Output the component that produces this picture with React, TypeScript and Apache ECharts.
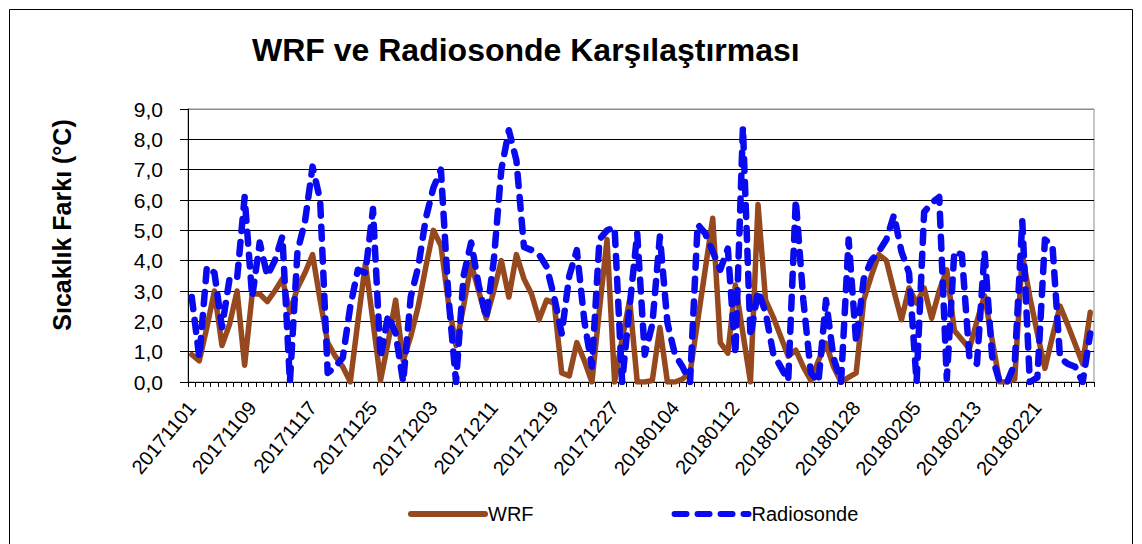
import React, { useEffect, useRef } from "react";
import * as echarts from "echarts";

// Months covered by the daily categories (YYYYMM, number of days)
const MONTHS: [string, number][] = [
  ["201711", 30],
  ["201712", 31],
  ["201801", 31],
  ["201802", 28],
];
const DATES: string[] = MONTHS.flatMap(([ym, n]) =>
  Array.from({ length: n }, (_, i) => ym + String(i + 1).padStart(2, "0"))
);

const Y_TICKS = [0, 1, 2, 3, 4, 5, 6, 7, 8, 9];

// WRF (brown)
const WRF: number[] = [
  0.9, 0.7, 1.8, 3.0, 1.2, 1.9, 3.0, 0.55, 2.9, 2.9,
  2.65, 3.0, 3.4, 2.3, 3.1, 3.6, 4.2, 2.7, 1.3, 0.85,
  0.5, 0.0, 2.0, 3.9, 2.0, 0.05, 1.3, 2.7, 0.7, 1.5,
  2.5, 3.8, 5.0, 4.5, 2.6, 1.2, 2.5, 3.9, 3.0, 2.1,
  3.0, 4.0, 2.8, 4.2, 3.4, 2.9, 2.05, 2.7, 2.6, 0.3,
  0.2, 1.3, 0.7, 0.0, 2.4, 4.7, 0.0, 1.4, 2.7, 0.0,
  0.0, 0.05, 1.8, 0.0, 0.0, 0.1, 0.3, 2.0, 3.7, 5.4,
  1.3, 0.95, 3.2, 1.6, 0.0, 5.85, 2.7, 2.15, 1.5, 0.85,
  1.05, 0.5, 0.05, 0.7, 1.28, 0.5, 0.0, 0.15, 0.3, 2.7,
  3.5, 4.2, 4.0, 3.0, 2.05, 3.1, 2.6, 3.1, 2.1, 3.0,
  3.7, 1.7, 1.4, 1.1, 2.0, 2.85, 1.4, 0.0, 0.0, 0.1,
  4.2, 2.8, 1.6, 0.45, 1.5, 2.5, 1.9, 1.25, 0.6, 2.3,
];

// Radiosonde (blue, dashed)
const RADIOSONDE: number[] = [
  2.8, 0.8, 3.8, 3.6, 1.8, 3.4, 3.4, 6.1, 2.8, 4.6,
  3.5, 4.0, 4.8, 0.0, 4.3, 5.3, 7.1, 6.0, 0.3, 0.5,
  0.8, 2.5, 3.7, 3.6, 5.7, 0.8, 2.2, 1.6, 0.0, 2.8,
  3.8, 5.4, 6.4, 7.0, 2.8, 0.0, 3.5, 4.6, 3.2, 2.1,
  4.0, 7.0, 8.3, 7.3, 4.45, 4.35, 4.2, 3.8, 2.8, 1.6,
  3.5, 4.35, 2.0, 0.5, 4.7, 5.0, 5.1, 0.0, 2.5, 4.9,
  0.9, 1.9, 4.8, 1.95, 0.9, 0.5, 0.0, 5.2, 4.9, 4.3,
  3.7, 4.4, 0.9, 8.4, 1.5, 3.0, 2.3, 0.95, 0.5, 0.05,
  6.0, 2.7, 0.3, 0.0, 2.7, 0.8, 0.0, 4.7, 1.3, 3.4,
  4.0, 4.3, 4.7, 5.5, 4.3, 3.6, 0.0, 5.6, 5.9, 6.1,
  0.1, 4.3, 4.2, 0.8, 0.6, 4.3, 0.85, 0.0, 0.0, 0.6,
  5.3, 0.0, 0.15, 4.7, 4.5, 0.8, 0.6, 0.5, 0.0, 1.6,
];

const FONT = '"Liberation Sans", Arial, sans-serif';
const BROWN = "#96491f";
const BLUE = "#0a0af0";

export default function App() {
  const ref = useRef<HTMLDivElement>(null);

  useEffect(() => {
    document.body.style.margin = "0";
    if (!ref.current) return;
    const chart = echarts.init(ref.current, undefined, { renderer: "svg" });
    const gridColors = Y_TICKS.map((_, i) => (i === Y_TICKS.length - 1 ? "#8c8c8c" : "#000"));
    chart.setOption({
      animation: false,
      backgroundColor: "#fff",
      title: {
        text: "WRF ve Radiosonde Karşılaştırması",
        left: 252,
        top: 34,
        padding: 0,
        textStyle: { fontFamily: FONT, fontSize: 32, fontWeight: "bold", color: "#000" },
      },
      legend: {
        left: 403,
        top: 499,
        itemWidth: 74,
        itemHeight: 14,
        itemGap: 138,
        itemStyle: { opacity: 0 },
        lineStyle: { width: 6, cap: "round" },
        textStyle: { fontFamily: FONT, fontSize: 20, color: "#000", padding: [0, 0, 0, -2] },
        data: ["WRF", "Radiosonde"],
      },
      grid: {
        left: 188,
        right: 48,
        top: 109,
        bottom: 162,
        show: true,
        borderColor: "#8c8c8c",
        borderWidth: 1,
        backgroundColor: "#fff",
      },
      xAxis: {
        type: "category",
        data: DATES,
        boundaryGap: true,
        axisLine: { lineStyle: { color: "#000", width: 1 } },
        axisTick: { show: true, interval: 0, length: 5, lineStyle: { color: "#000" } },
        axisLabel: {
          interval: 7,
          rotate: 50,
          margin: 22,
          fontFamily: FONT,
          fontSize: 20,
          color: "#000",
        },
        splitLine: { show: false },
      },
      yAxis: {
        type: "value",
        min: 0,
        max: 9,
        interval: 1,
        axisLine: { show: true, lineStyle: { color: "#000", width: 1 } },
        axisTick: { show: true, length: 8, lineStyle: { color: "#000" } },
        axisLabel: {
          margin: 25,
          fontFamily: FONT,
          fontSize: 21,
          color: "#000",
          formatter: (v: number) => v.toFixed(1).replace(".", ","),
        },
        splitLine: { show: true, lineStyle: { color: gridColors, width: 1 } },
      },
      graphic: [
        {
          type: "rect",
          shape: { x: 9.5, y: 9.5, width: 1123, height: 560 },
          style: { fill: "none", stroke: "#000", lineWidth: 1 },
          silent: true,
          z: -10,
        },
        {
          type: "text",
          x: 62,
          y: 225,
          rotation: Math.PI / 2,
          style: {
            text: "Sıcaklık Farkı (°C)",
            font: `bold 25px ${FONT}`,
            fill: "#000",
            align: "center",
            verticalAlign: "middle",
            textAlign: "center",
            textVerticalAlign: "middle",
          },
        },
      ],
      series: [
        {
          name: "WRF",
          type: "line",
          data: WRF,
          symbol: "none",
          smooth: false,
          itemStyle: { color: BROWN },
          lineStyle: { color: BROWN, width: 5.5, cap: "round", join: "round" },
        },
        {
          name: "Radiosonde",
          type: "line",
          data: RADIOSONDE,
          symbol: "none",
          smooth: false,
          itemStyle: { color: BLUE },
          lineStyle: { color: BLUE, width: 6.5, type: [12, 11], cap: "round", join: "round" },
        },
      ],
    });
    return () => chart.dispose();
  }, []);

  return <div ref={ref} style={{ width: 1142, height: 544 }} />;
}
